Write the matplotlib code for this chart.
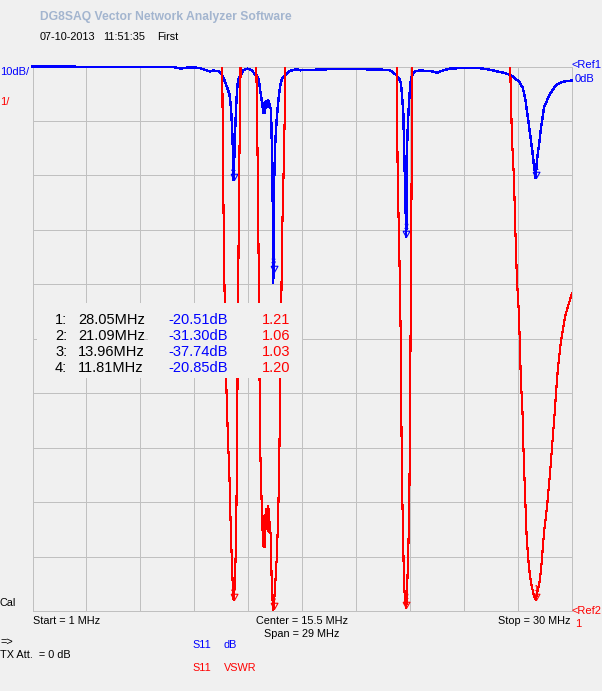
import matplotlib
matplotlib.use("Agg")
import matplotlib.pyplot as plt
import matplotlib.patches as patches
import numpy as np

plt.rcParams['font.family'] = ['Liberation Sans', 'DejaVu Sans']

freq_mhz = [
    1.00, 1.833, 4.628, 7.316, 8.660, 8.875, 8.982, 9.090, 9.305, 9.627,
    10.004, 10.272, 10.541, 10.702, 10.917, 11.079, 11.186, 11.240, 11.294, 11.348,
    11.428, 11.509, 11.578, 11.632, 11.686, 11.751, 11.81, 11.864, 11.901, 11.933,
    11.966, 11.998, 12.036, 12.073, 12.116, 12.181, 12.234, 12.315, 12.423, 12.530,
    12.691, 12.799, 12.906, 12.960, 13.051, 13.105, 13.159, 13.202, 13.245, 13.283,
    13.336, 13.363, 13.390, 13.417, 13.444, 13.471, 13.497, 13.524, 13.551, 13.578,
    13.605, 13.632, 13.659, 13.686, 13.713, 13.739, 13.766, 13.820, 13.847, 13.885,
    13.912, 13.933, 13.96, 13.99, 14.05, 14.12, 14.195, 14.25, 14.30, 14.37,
    14.42, 14.49, 14.55, 14.58, 14.63, 14.74, 14.85, 15.07, 15.23, 15.379,
    16.454, 17.530, 18.605, 19.680, 20.218, 20.379, 20.577, 20.631, 20.717, 20.793,
    20.825, 20.862, 20.932, 20.969, 21.039, 21.09, 21.12, 21.15, 21.20, 21.255,
    21.29, 21.33, 21.385, 21.415, 21.45, 21.50, 21.61, 21.82, 22.36, 22.63,
    22.74, 22.90, 23.43, 23.97, 25.05, 25.59, 26.12, 26.39, 26.66, 26.77,
    26.88, 26.96, 27.04, 27.15, 27.20, 27.25, 27.34, 27.38, 27.43, 27.51,
    27.56, 27.65, 27.74, 27.85, 27.95, 28.05, 28.12, 28.23, 28.34, 28.50,
    28.66, 28.82, 29.04, 29.14, 29.25, 29.41, 29.63, 29.79, 30.00,
]
s11_db = [
    -0.02, -0.02, -0.05, -0.10, -0.15, -0.30, -0.45, -0.30, -0.20, -0.15,
    -0.30, -0.60, -0.90, -0.75, -0.80, -1.00, -1.50, -1.90, -2.30, -2.80,
    -3.50, -4.30, -5.00, -6.40, -8.50, -13.0, -20.85, -15.0, -11.0, -8.50,
    -6.00, -4.20, -3.00, -2.30, -1.90, -1.60, -1.30, -0.80, -0.50, -0.40,
    -0.50, -0.80, -1.20, -1.40, -1.65, -1.90, -2.40, -3.30, -4.50, -5.30,
    -6.50, -7.40, -6.90, -8.60, -7.00, -6.60, -8.60, -7.20, -6.30, -7.30,
    -6.30, -6.60, -6.20, -7.50, -6.30, -7.00, -7.20, -8.00, -12.0, -17.0,
    -25.0, -39.8, -37.74, -21.0, -14.0, -10.0, -7.00, -5.20, -3.80, -2.70,
    -2.20, -1.95, -1.75, -1.62, -1.45, -1.10, -0.80, -0.60, -0.50, -0.70,
    -0.55, -0.45, -0.50, -0.55, -0.70, -1.10, -1.60, -1.95, -2.30, -2.90,
    -3.80, -5.30, -8.50, -14.0, -24.0, -31.30, -20.0, -13.0, -9.00, -6.00,
    -4.00, -2.70, -1.90, -1.60, -1.30, -1.00, -0.80, -0.75, -0.80, -1.00,
    -1.15, -0.90, -0.40, -0.30, -0.30, -0.60, -1.00, -1.20, -1.55, -1.80,
    -1.95, -2.20, -2.47, -2.72, -3.00, -3.35, -3.80, -4.33, -5.00, -6.47,
    -7.80, -9.85, -12.3, -15.0, -18.0, -20.51, -17.0, -14.3, -11.1, -7.50,
    -6.20, -5.04, -3.92, -3.52, -3.20, -2.94, -2.73, -2.65, -2.56,
]

# marcadores
marker_id = ["1", "2", "3", "4"]
marker_freq = [28.05, 21.09, 13.96, 11.81]
marker_db = [-20.51, -31.30, -37.74, -20.85]
marker_vswr = [1.21, 1.06, 1.03, 1.20]

BG = "#f0f0f0"
GRID = "#c0c0c0"
BLUE = "#0000ff"
RED = "#ff0000"

W, H = 602, 691
fig = plt.figure(figsize=(W / 100, H / 100), dpi=100, facecolor=BG)


def px(x, y):
    # converte pixel (origem no canto superior esquerdo) para fracao da figura
    return x / W, 1 - y / H


ax = fig.add_axes([32.5 / W, 1 - 611 / H, (572 - 32.5) / W, (611 - 66.5) / H])
ax.set_facecolor(BG)
ax.set_xlim(1, 30)
ax.set_ylim(-100, 0)
ax.set_xticks(np.linspace(1, 30, 11))
ax.set_yticks(np.arange(-100, 1, 10))
ax.tick_params(length=0, labelbottom=False, labelleft=False)
ax.grid(True, color=GRID, linewidth=0.7, antialiased=False)
for s in ax.spines.values():
    s.set_color(GRID)
    s.set_linewidth(0.7)
    s.set_antialiased(False)

ax.plot(freq_mhz, s11_db, color=BLUE, linewidth=1.0, antialiased=False,
        clip_on=False, zorder=3)

# VSWR a partir do coeficiente de reflexao
gamma = np.minimum(10 ** (np.array(s11_db) / 20.0), 0.995)
vswr = (1 + gamma) / (1 - gamma)

ax2 = ax.twinx()
ax2.set_ylim(1, 11)
ax2.set_yticks([])
ax2.tick_params(length=0, labelright=False)
for s in ax2.spines.values():
    s.set_visible(False)
ax2.plot(freq_mhz, vswr, color=RED, linewidth=0.8, antialiased=False)

tri = [(-1, 1.8), (1, 1.8), (0, 0), (-1, 1.8)]
for mid, mf, md, mv in zip(marker_id, marker_freq, marker_db, marker_vswr):
    ax.plot(mf, md, marker=tri, markersize=9, markerfacecolor="none",
            markeredgecolor=BLUE, markeredgewidth=0.8, linestyle="none", zorder=4)
    ax.annotate(mid, (mf, md), xytext=(0, 4.5), textcoords="offset points",
                ha="center", va="bottom", fontsize=6.5, color=BLUE, zorder=4)
    ax2.plot(mf, mv, marker=tri, markersize=9, markerfacecolor="none",
             markeredgecolor=RED, markeredgewidth=0.8, linestyle="none", clip_on=False)
    ax2.annotate(mid, (mf, mv), xytext=(0, 4.5), textcoords="offset points",
                 ha="center", va="bottom", fontsize=6.5, color=RED)

# fundo da tabela de marcadores
for x0, x1 in [(37, 143), (148, 302)]:
    fig.add_artist(patches.Rectangle(px(x0, 378), (x1 - x0) / W, 75 / H,
                                     transform=fig.transFigure, facecolor=BG,
                                     edgecolor="none", zorder=2))

rows_y = [320, 336, 352, 368]
for mid, mf, md, mv, ry in zip(marker_id, marker_freq, marker_db, marker_vswr, rows_y):
    fig.text(*px(55, ry), f"{mid}:", fontsize=10.5, va="center", zorder=3)
    fig.text(*px(78, ry), f"{mf:.2f}MHz", fontsize=10.5, va="center", zorder=3)
    fig.text(*px(168, ry), f"{md:.2f}dB", fontsize=10.5, va="center", color=BLUE, zorder=3)
    fig.text(*px(262, ry), f"{mv:.2f}", fontsize=10.5, va="center", color=RED, zorder=3)

# textos da tela
fig.text(*px(40, 17), "DG8SAQ Vector Network Analyzer Software", fontsize=8.7,
         fontweight="bold", color="#a3b5cf", va="center")
fig.text(*px(40, 37), "07-10-2013", fontsize=7.8, va="center")
fig.text(*px(103.5, 37), "11:51:35", fontsize=7.8, va="center")
fig.text(*px(157.5, 37), "First", fontsize=7.8, va="center")

fig.text(*px(0, 72), "10dB/", fontsize=8, color=BLUE, va="center")
fig.text(*px(0, 102), "1/", fontsize=8, color=RED, va="center")
fig.text(*px(571, 65), "<Ref1", fontsize=8, color=BLUE, va="center")
fig.text(*px(575, 79), "0dB", fontsize=8, color=BLUE, va="center")
fig.text(*px(572, 611), "<Ref2", fontsize=8, color=RED, va="center")
fig.text(*px(575, 624), "1", fontsize=8, color=RED, va="center")
fig.text(*px(0, 603), "Cal", fontsize=7.8, va="center")

fig.text(*px(33, 621), "Start = 1 MHz", fontsize=7.8, va="center")
fig.text(*px(302, 621), "Center = 15.5 MHz", fontsize=7.8, va="center", ha="center")
fig.text(*px(302, 634), "Span = 29 MHz", fontsize=7.8, va="center", ha="center")
fig.text(*px(571, 621), "Stop = 30 MHz", fontsize=7.8, va="center", ha="right")

fig.text(*px(0, 642), "=>", fontsize=7.8, va="center")
fig.text(*px(0, 655), "TX Att.  = 0 dB", fontsize=7.8, va="center")
fig.text(*px(192, 645), "S11", fontsize=7.8, color=BLUE, va="center")
fig.text(*px(224, 645), "dB", fontsize=7.8, color=BLUE, va="center")
fig.text(*px(192, 668), "S11", fontsize=7.8, color=RED, va="center")
fig.text(*px(224, 668), "VSWR", fontsize=7.8, color=RED, va="center")

fig.savefig("out.png", dpi=100, facecolor=BG)
plt.close(fig)
